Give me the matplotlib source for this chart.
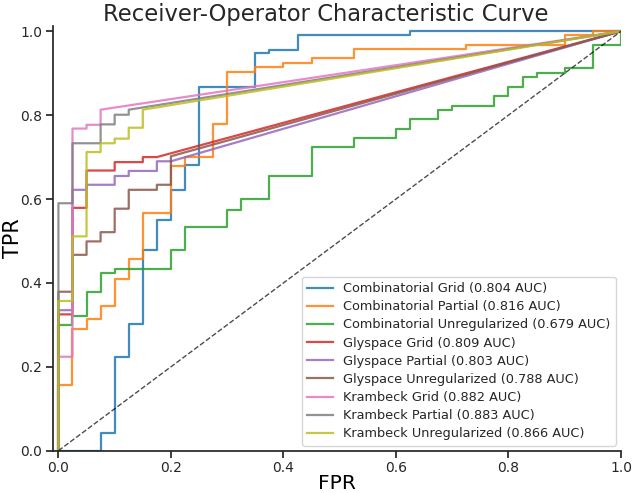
import matplotlib
matplotlib.use("Agg")
import matplotlib.pyplot as plt

# ROC curves (fpr, tpr)
comb_grid_fpr = [0, 0.075, 0.075, 0.1, 0.1, 0.125, 0.125, 0.15, 0.15, 0.175, 0.175, 0.2, 0.2, 0.225, 0.225, 0.25, 0.25, 0.35, 0.35, 0.375, 0.375, 0.425, 0.425, 0.625, 0.625, 1.0]
comb_grid_tpr = [0, 0, 0.043, 0.043, 0.224, 0.224, 0.301, 0.301, 0.478, 0.478, 0.55, 0.55, 0.622, 0.622, 0.68, 0.68, 0.868, 0.868, 0.948, 0.948, 0.956, 0.956, 0.99, 0.99, 1.0, 1.0]

comb_part_fpr = [0, 0, 0.025, 0.025, 0.05, 0.05, 0.075, 0.075, 0.1, 0.1, 0.125, 0.125, 0.15, 0.15, 0.2, 0.2, 0.225, 0.225, 0.275, 0.275, 0.3, 0.3, 0.35, 0.35, 0.4, 0.4, 0.45, 0.45, 0.525, 0.525, 0.725, 0.725, 0.9, 0.9, 0.95, 0.95, 1.0]
comb_part_tpr = [0, 0.156, 0.156, 0.291, 0.291, 0.313, 0.313, 0.345, 0.345, 0.41, 0.41, 0.456, 0.456, 0.567, 0.567, 0.679, 0.679, 0.70, 0.70, 0.778, 0.778, 0.904, 0.904, 0.914, 0.914, 0.925, 0.925, 0.936, 0.936, 0.957, 0.957, 0.968, 0.968, 0.99, 0.99, 1.0, 1.0]

comb_unreg_fpr = [0, 0, 0.025, 0.025, 0.05, 0.05, 0.075, 0.075, 0.1, 0.1, 0.2, 0.2, 0.225, 0.225, 0.3, 0.3, 0.325, 0.325, 0.375, 0.375, 0.45, 0.45, 0.525, 0.525, 0.6, 0.6, 0.625, 0.625, 0.675, 0.675, 0.7, 0.7, 0.775, 0.775, 0.8, 0.8, 0.825, 0.825, 0.85, 0.85, 0.9, 0.9, 0.95, 0.95, 1.0, 1.0]
comb_unreg_tpr = [0, 0.3, 0.3, 0.321, 0.321, 0.379, 0.379, 0.424, 0.424, 0.434, 0.434, 0.478, 0.478, 0.533, 0.533, 0.575, 0.575, 0.601, 0.601, 0.656, 0.656, 0.724, 0.724, 0.746, 0.746, 0.768, 0.768, 0.79, 0.79, 0.813, 0.813, 0.823, 0.823, 0.845, 0.845, 0.868, 0.868, 0.89, 0.89, 0.90, 0.90, 0.912, 0.912, 0.968, 0.968, 1.0]

gly_grid_fpr = [0, 0, 0.025, 0.025, 0.05, 0.05, 0.1, 0.1, 0.15, 0.15, 0.175, 1.0]
gly_grid_tpr = [0, 0.325, 0.325, 0.579, 0.579, 0.668, 0.668, 0.688, 0.688, 0.70, 0.70, 1.0]

gly_part_fpr = [0, 0, 0.025, 0.025, 0.05, 0.05, 0.1, 0.1, 0.125, 0.125, 0.175, 0.175, 0.2, 1.0]
gly_part_tpr = [0, 0.335, 0.335, 0.622, 0.622, 0.634, 0.634, 0.655, 0.655, 0.667, 0.667, 0.69, 0.69, 1.0]

gly_unreg_fpr = [0, 0, 0.025, 0.025, 0.05, 0.05, 0.075, 0.075, 0.1, 0.1, 0.125, 0.125, 0.175, 0.175, 0.2, 0.2, 1.0]
gly_unreg_tpr = [0, 0.379, 0.379, 0.467, 0.467, 0.499, 0.499, 0.521, 0.521, 0.577, 0.577, 0.622, 0.622, 0.634, 0.634, 0.702, 1.0]

kram_grid_fpr = [0, 0, 0.025, 0.025, 0.05, 0.05, 0.075, 0.075, 1.0]
kram_grid_tpr = [0, 0.224, 0.224, 0.768, 0.768, 0.777, 0.777, 0.813, 1.0]

kram_part_fpr = [0, 0, 0.025, 0.025, 0.075, 0.075, 0.1, 0.1, 0.125, 0.125, 1.0]
kram_part_tpr = [0, 0.59, 0.59, 0.733, 0.733, 0.778, 0.778, 0.801, 0.801, 0.813, 1.0]

kram_unreg_fpr = [0, 0, 0.025, 0.025, 0.05, 0.05, 0.075, 0.075, 0.1, 0.1, 0.125, 0.125, 0.15, 0.15, 1.0]
kram_unreg_tpr = [0, 0.357, 0.357, 0.511, 0.511, 0.712, 0.712, 0.733, 0.733, 0.744, 0.744, 0.77, 0.77, 0.813, 1.0]

labels = ["Combinatorial Grid", "Combinatorial Partial", "Combinatorial Unregularized",
          "Glyspace Grid", "Glyspace Partial", "Glyspace Unregularized",
          "Krambeck Grid", "Krambeck Partial", "Krambeck Unregularized"]
aucs = [0.804, 0.816, 0.679, 0.809, 0.803, 0.788, 0.882, 0.883, 0.866]

curves = [(comb_grid_fpr, comb_grid_tpr), (comb_part_fpr, comb_part_tpr), (comb_unreg_fpr, comb_unreg_tpr),
          (gly_grid_fpr, gly_grid_tpr), (gly_part_fpr, gly_part_tpr), (gly_unreg_fpr, gly_unreg_tpr),
          (kram_grid_fpr, kram_grid_tpr), (kram_part_fpr, kram_part_tpr), (kram_unreg_fpr, kram_unreg_tpr)]

plt.rcParams['axes.edgecolor'] = '.15'
plt.rcParams['xtick.color'] = '.15'
plt.rcParams['ytick.color'] = '.15'
plt.rcParams['text.color'] = '.15'

fig = plt.figure(figsize=(6.33, 4.93), dpi=100)
ax = fig.add_axes([0.0834, 0.0858, 0.8976, 0.861])

for (fpr, tpr), name, auc in zip(curves, labels, aucs):
    ax.plot(fpr, tpr, lw=1.6, alpha=0.85, label="%s (%.3f AUC)" % (name, auc))

ax.plot([0, 1], [0, 1], "k--", lw=1, alpha=0.7)

ax.set_xlim(-0.01, 1.0)
ax.set_ylim(0.0, 1.012)
ax.spines['top'].set_visible(False)
ax.spines['right'].set_visible(False)
ax.spines['left'].set_linewidth(1.25)
ax.spines['bottom'].set_linewidth(1.25)
ax.tick_params(width=1.25, length=5, labelsize=10, pad=2.5)

ax.set_xlabel("FPR", fontsize=14.5)
ax.xaxis.set_label_coords(0.5, -0.054)
ax.set_ylabel("TPR", fontsize=15)
ax.yaxis.set_label_coords(-0.052, 0.5)
ax.set_title("Receiver-Operator Characteristic Curve", fontsize=16.3, pad=3, x=0.48)
ax.legend(loc="lower right", fontsize=9.3, labelspacing=0.4, borderaxespad=0.4)

fig.savefig("out.png", dpi=100)
